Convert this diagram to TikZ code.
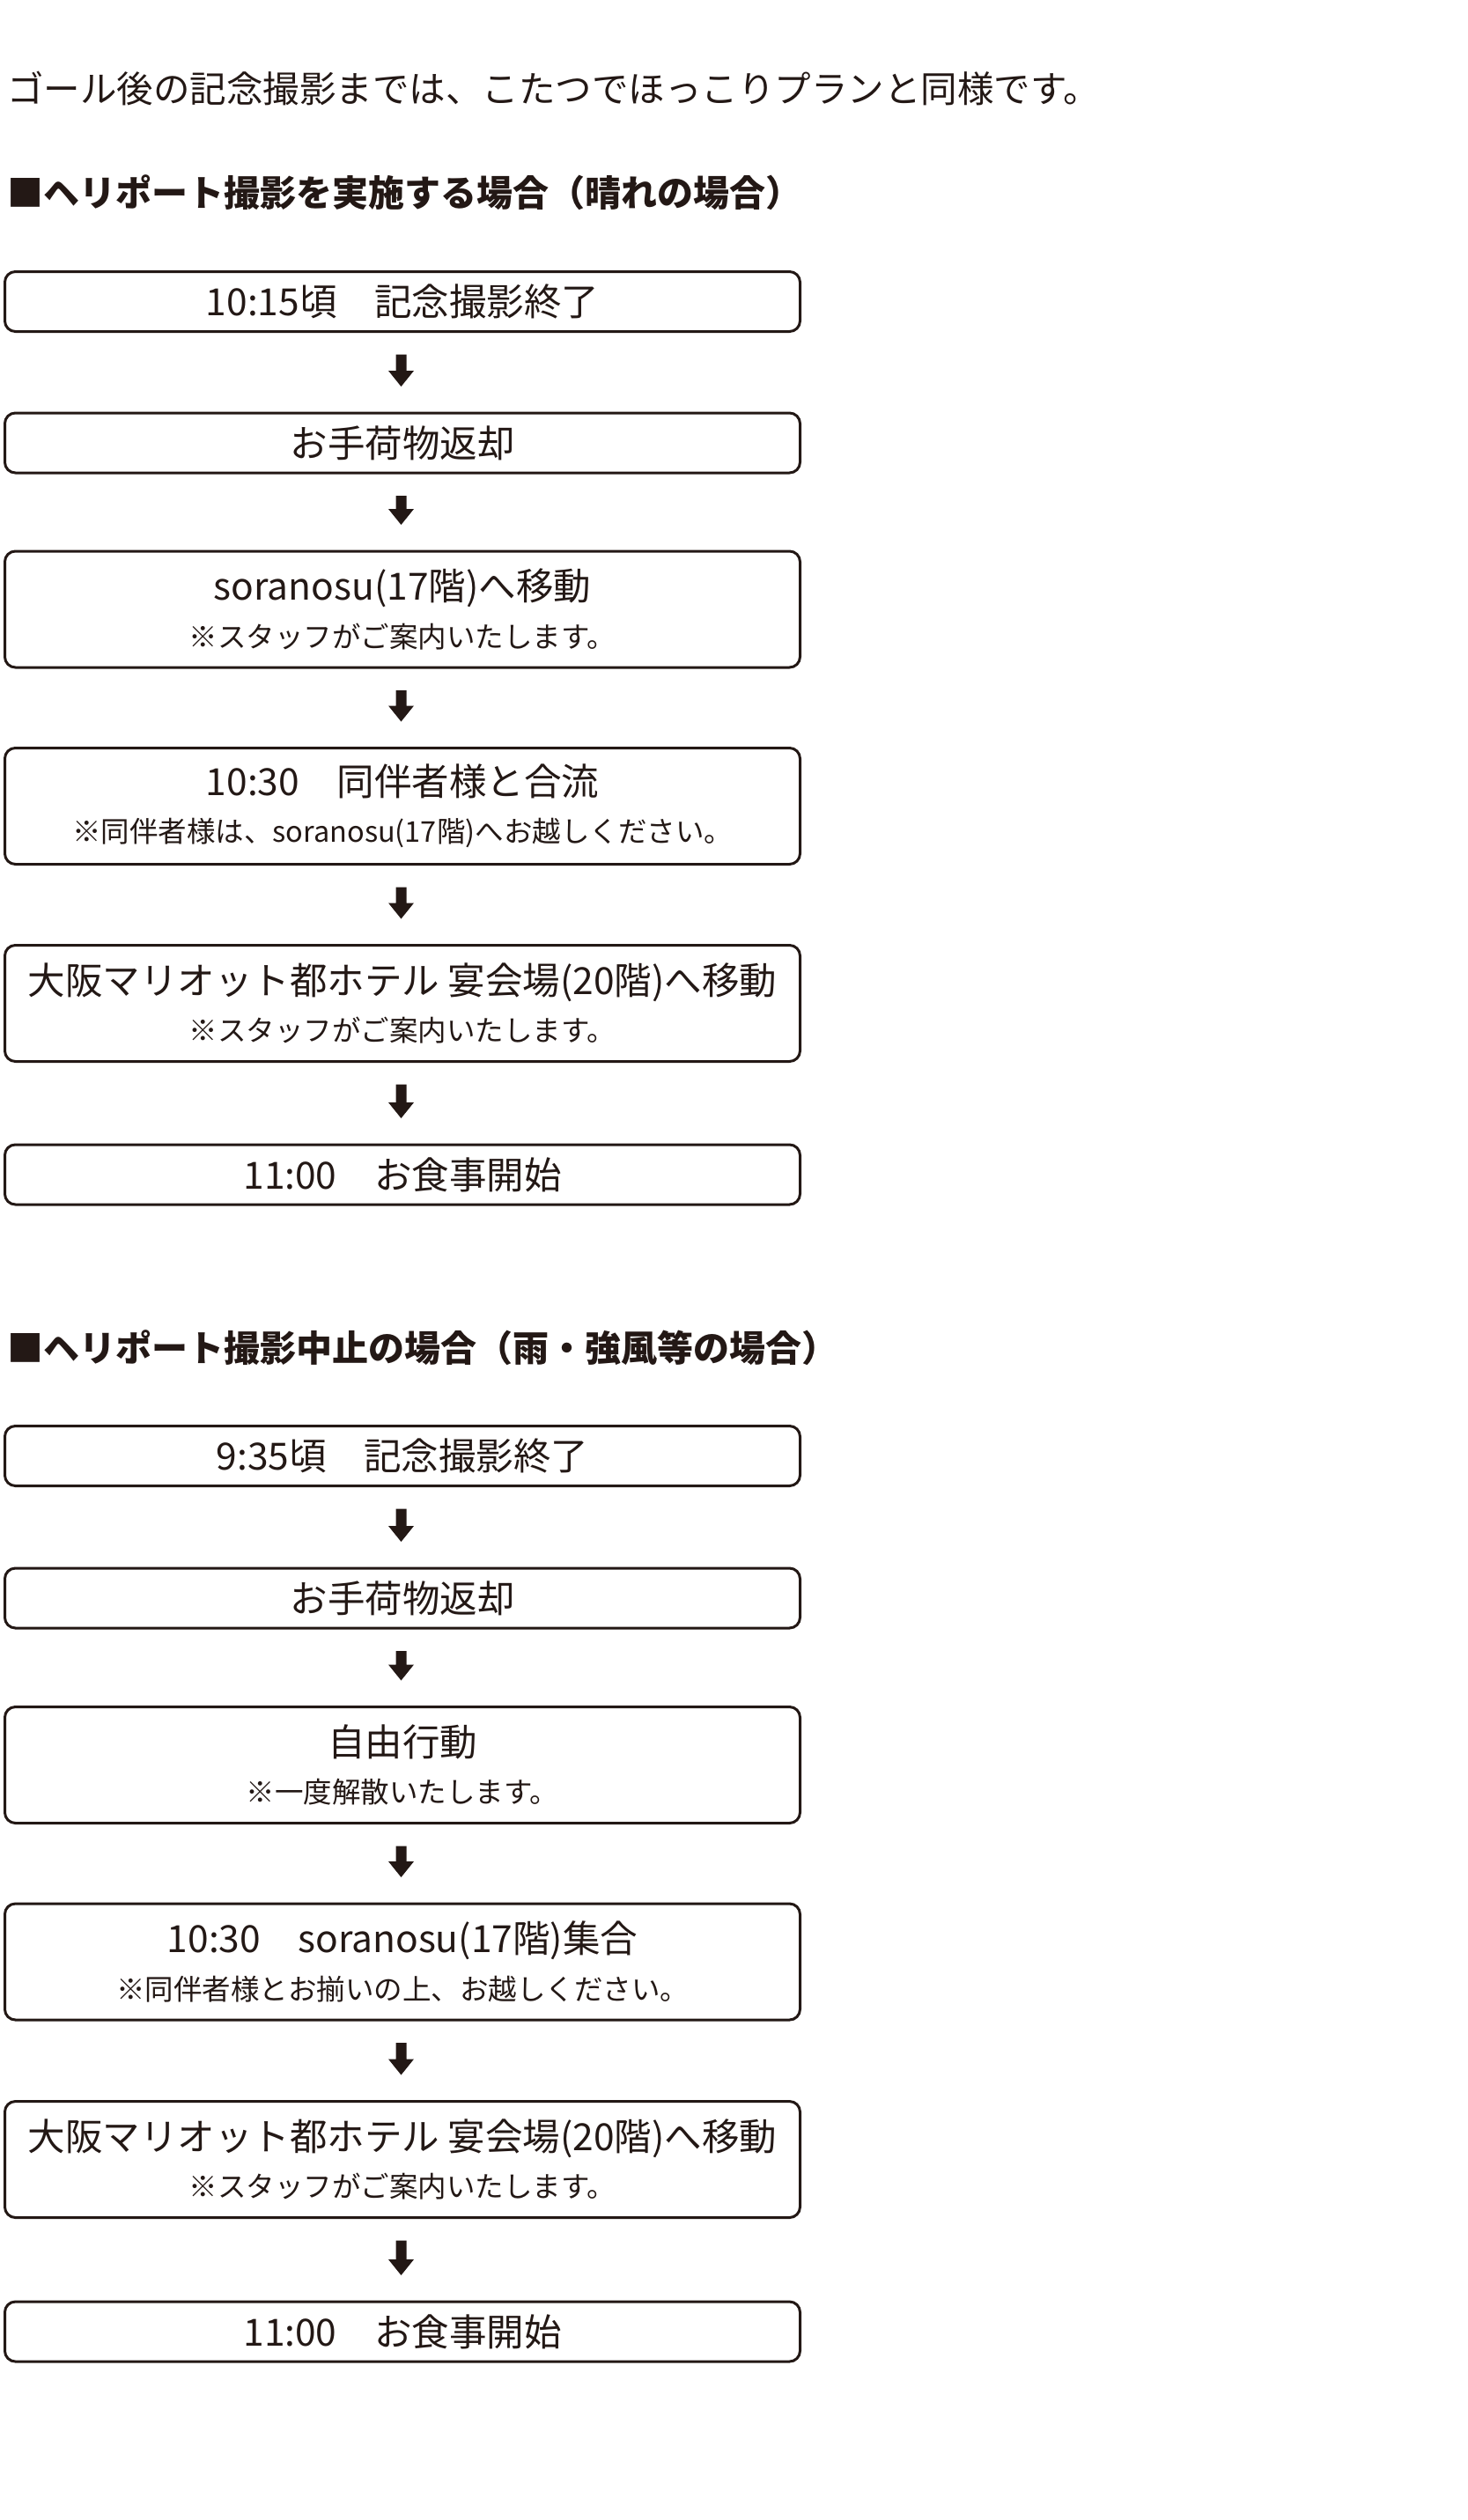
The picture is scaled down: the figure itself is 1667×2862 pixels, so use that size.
\documentclass[tikz,border=0pt]{standalone}
\usepackage{fontspec}
\setmainfont{Noto Sans CJK JP}
\usetikzlibrary{calc}
\definecolor{ink}{RGB}{35,24,21}
\newcommand\flowarr[2]{%
  \fill[ink] ($(#1.south)+(-7.5,24.5)$) -- ($(#1.south)+(4.5,24.5)$)
    -- ($(#2.north)+(4.5,-46.5)$) -- ($(#2.north)+(13,-46.5)$)
    -- ($(#2.north)+(-1.5,-28.5)$) -- ($(#2.north)+(-16,-46.5)$)
    -- ($(#2.north)+(-7.5,-46.5)$) -- cycle;}
\newcommand\subline[1]{{\fontsize{32.5}{40}\selectfont #1}}
\begin{document}
\begin{tikzpicture}[x=1pt,y=-1pt,
  box/.style={draw=ink, line width=3pt, rounded corners=12pt, minimum width=903pt,
    inner sep=0pt, align=center, text=ink, font=\fontsize{42.5}{53.4}\selectfont},
  onebox/.style={box, minimum height=68pt},
  twobox/.style={box, minimum height=132pt},
  intro/.style={anchor=west, inner sep=0pt, text=ink, font=\fontsize{41.5}{48}\selectfont},
  heading/.style={anchor=west, inner sep=0pt, text=ink, font=\fontsize{41}{48}\selectfont\bfseries}]
\useasboundingbox[fill=white] (0,0) rectangle (1667,2862);

\node[intro] (intro) at (8,100) {ゴール後の記念撮影までは、こたつでほっこりプランと同様です。};

\node[heading] (h1) at (8,219) {■ヘリポート撮影を実施する場合（晴れの場合）};
\node[onebox] (a1) at (457,342.5) {10:15頃　記念撮影終了};
\node[onebox] (a2) at (457,503) {お手荷物返却};
\node[twobox] (a3) at (457,692) {soranosu(17階)へ移動\\\subline{※スタッフがご案内いたします。}};
\node[twobox] (a4) at (457,915.5) {10:30　同伴者様と合流\\\subline{※同伴者様は、soranosu(17階)へお越しください。}};
\node[twobox] (a5) at (457,1139.5) {大阪マリオット都ホテル 宴会場(20階)へ移動\\\subline{※スタッフがご案内いたします。}};
\node[onebox] (a6) at (457,1334) {11:00　お食事開始};
\flowarr{a1}{a2}
\flowarr{a2}{a3}
\flowarr{a3}{a4}
\flowarr{a4}{a5}
\flowarr{a5}{a6}

\node[heading] (h2) at (8,1531) {■ヘリポート撮影中止の場合（雨・強風等の場合）};
\node[onebox] (b1) at (457,1653.5) {9:35頃　記念撮影終了};
\node[onebox] (b2) at (457,1815) {お手荷物返却};
\node[twobox] (b3) at (457,2004.5) {自由行動\\\subline{※一度解散いたします。}};
\node[twobox] (b4) at (457,2228) {10:30　soranosu(17階)集合\\\subline{※同伴者様とお揃いの上、お越しください。}};
\node[twobox] (b5) at (457,2452.5) {大阪マリオット都ホテル 宴会場(20階)へ移動\\\subline{※スタッフがご案内いたします。}};
\node[onebox] (b6) at (457,2648) {11:00　お食事開始};
\flowarr{b1}{b2}
\flowarr{b2}{b3}
\flowarr{b3}{b4}
\flowarr{b4}{b5}
\flowarr{b5}{b6}
\end{tikzpicture}
\end{document}
